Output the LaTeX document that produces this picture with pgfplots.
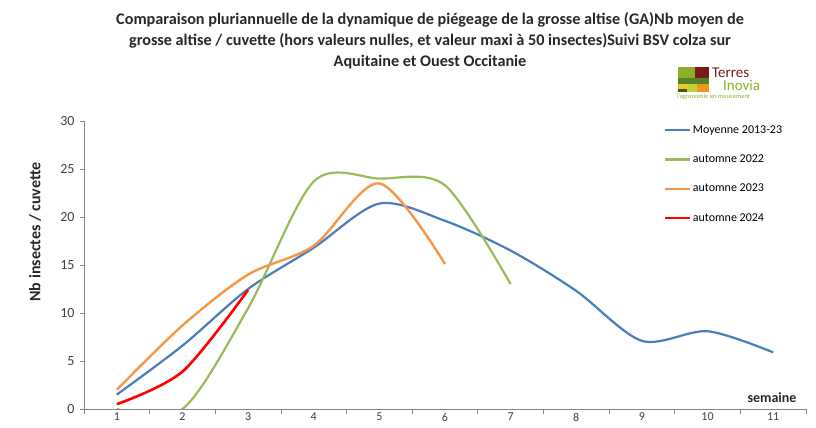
\documentclass[border=0pt]{standalone}
\usepackage{fontspec}
\setmainfont{Carlito}
\usepackage{pgfplots}
\pgfplotsset{compat=1.18}
\definecolor{cblue}{RGB}{74,126,187}
\definecolor{cgreen}{RGB}{155,187,89}
\definecolor{corange}{RGB}{247,150,70}
\definecolor{cred}{RGB}{255,0,0}
\definecolor{axgray}{RGB}{134,134,134}
\definecolor{txt}{RGB}{64,64,64}
\definecolor{logored}{RGB}{122,26,30}
\definecolor{logogreen}{RGB}{140,176,40}
\definecolor{logodgreen}{RGB}{84,130,40}
\definecolor{logoyellow}{RGB}{240,200,30}
\definecolor{logoorange}{RGB}{235,150,30}
\definecolor{logolgreen}{RGB}{190,210,60}
\begin{document}
\begin{tikzpicture}[x=1pt,y=1pt]
\useasboundingbox (0,0) rectangle (816,428);
\begin{axis}[
  at={(84pt,19pt)}, anchor=south west,
  scale only axis, width=722pt, height=288pt,
  xmin=0.5, xmax=11.5, ymin=0, ymax=30,
  axis x line*=bottom, axis y line*=left,
  axis line style={axgray, line width=0.8pt, -},
  xtick={1,...,11},
  minor xtick={0.5,1.5,...,11.5},
  major x tick style={draw=none},
  minor x tick style={axgray, line width=0.8pt},
  ytick={0,5,...,30},
  y tick style={axgray, line width=0.8pt},
  tick align=outside,
  major tick length=4pt, minor tick length=5pt,
  /pgf/number format/assume math mode=true,
  yticklabel style={font=\fontsize{14}{16}\selectfont, text=txt, xshift=-2pt},
  xticklabel style={font=\fontsize{12}{13}\selectfont, text=txt, anchor=north, yshift=1pt, inner sep=1pt},
  legend style={at={(rel axis cs:0.802,0.992)}, anchor=north west, draw=none, fill=none,
    font=\fontsize{12}{14}\selectfont, row sep=16pt, inner sep=0pt,
    legend cell align=left, /tikz/every even column/.append style={column sep=2pt}},
  legend image code/.code={\draw[#1] (0pt,0pt) -- (25pt,0pt);},
  every axis plot/.append style={smooth, tension=0.5},
]
\addplot[cblue, line width=2.2pt] coordinates {
 (1,1.5) (2,6.6) (3,12.5) (4,16.8) (5,21.4) (6,19.6) (7,16.5) (8,12.3) (9,7.1) (10,8.1) (11,5.9)};
\addlegendentry{Moyenne 2013-23}
\addplot[cgreen, line width=2.2pt] coordinates {
 (1,0) (2,0) (3,10.5) (4,23.7) (5,24.0) (6,23.3) (7,13.0)};
\addlegendentry{automne 2022}
\addplot[corange, line width=2.4pt] coordinates {
 (1,2.0) (2,8.7) (3,14.0) (4,17.0) (5,23.5) (6,15.1)};
\addlegendentry{automne 2023}
\addplot[cred, line width=2.6pt] coordinates {
 (1,0.5) (2,3.9) (3,12.4)};
\addlegendentry{automne 2024}
\end{axis}
% title
\node[align=center, font=\bfseries\fontsize{16.2}{21}\selectfont, text=txt!60!black] at (430,387)
 {Comparaison pluriannuelle de la dynamique de piégeage de la grosse altise (GA)Nb moyen de\\
  grosse altise / cuvette (hors valeurs nulles, et valeur maxi à 50 insectes)Suivi BSV colza sur\\
  Aquitaine et Ouest Occitanie};
% y label
\node[rotate=90, font=\bfseries\fontsize{16}{18}\selectfont, text=txt!60!black] at (35,196) {Nb insectes / cuvette};
% x label
\node[font=\bfseries\fontsize{14}{16}\selectfont, text=txt!60!black] at (772,30) {semaine};
% logo
\fill[logogreen] (678,361) rectangle (695,350);
\fill[logored] (695,361) rectangle (709,350);
\fill[logodgreen] (678,350) rectangle (709,344);
\fill[logoyellow] (678,344) rectangle (687,339);
\fill[logodgreen!70!black] (678,339) rectangle (687,336);
\fill[logolgreen] (687,344) rectangle (697,336);
\fill[logoorange] (697,344) rectangle (709,336);
\node[anchor=base west, font=\fontsize{15}{16}\selectfont, text=logored, inner sep=0pt] at (712,350) {Terres};
\node[anchor=base west, font=\fontsize{15}{16}\selectfont, text=logogreen, inner sep=0pt] at (723,337) {Inovia};
\node[anchor=base west, font=\fontsize{6.5}{7}\selectfont, text=logogreen, inner sep=0pt] at (677,329) {l'agronomie en mouvement};
\end{tikzpicture}
\end{document}
